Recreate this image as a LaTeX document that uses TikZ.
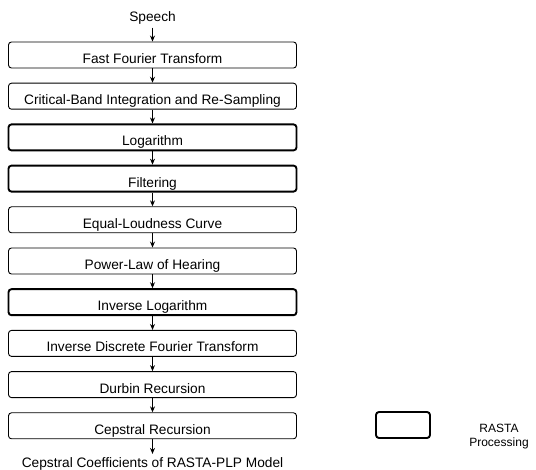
\documentclass[tikz,border=0pt]{standalone}
\usepackage{fontspec}
\setmainfont{Liberation Sans}
\usetikzlibrary{arrows.meta}
\begin{document}
\begin{tikzpicture}[x=1pt,y=-1pt,
  lbl/.style={font=\fontsize{13.7}{16}\selectfont, inner sep=0pt},
  proc/.style={draw, rounded corners=3pt, line width=0.9pt, minimum width=288pt,
    minimum height=26pt, inner sep=0pt, text height=21.5pt, text depth=4.5pt,
    font=\fontsize{13.7}{16}\selectfont},
  rasta/.style={proc, line width=1.9pt},
  flow/.style={-{Stealth[length=6pt,width=5pt]}, line width=0.9pt}]
\useasboundingbox (0,0) rectangle (536,470);

\node[lbl] (speech) at (152.5,18) {Speech};
\node[proc]  (b0) at (152.5, 55.0) {Fast Fourier Transform};
\node[proc]  (b1) at (152.5, 96.2) {Critical-Band Integration and Re-Sampling};
\node[rasta] (b2) at (152.5,137.4) {Logarithm};
\node[rasta] (b3) at (152.5,178.6) {Filtering};
\node[proc]  (b4) at (152.5,219.8) {Equal-Loudness Curve};
\node[proc]  (b5) at (152.5,261.0) {Power-Law of Hearing};
\node[rasta] (b6) at (152.5,302.2) {Inverse Logarithm};
\node[proc]  (b7) at (152.5,343.4) {Inverse Discrete Fourier Transform};
\node[proc]  (b8) at (152.5,384.6) {Durbin Recursion};
\node[proc]  (b9) at (152.5,425.8) {Cepstral Recursion};
\node[lbl] (out) at (152.5,463.5) {Cepstral Coefficients of RASTA-PLP Model};

\draw[flow] ([yshift=-3pt]speech.south) -- (b0.north);
\foreach \a/\b in {b0/b1,b1/b2,b2/b3,b3/b4,b4/b5,b5/b6,b6/b7,b7/b8,b8/b9}
  \draw[flow] (\a.south) -- (\b.north);
\draw[flow] (b9.south) -- ([yshift=3pt]out.north);

\node[draw, rounded corners=3pt, line width=1.9pt, minimum width=54pt,
  minimum height=26pt, inner sep=0pt] (legend) at (403,425) {};
\node[font=\fontsize{12}{14}\selectfont, align=center, inner sep=0pt]
  (legendtxt) at (499,437) {RASTA\\Processing};
\end{tikzpicture}
\end{document}
